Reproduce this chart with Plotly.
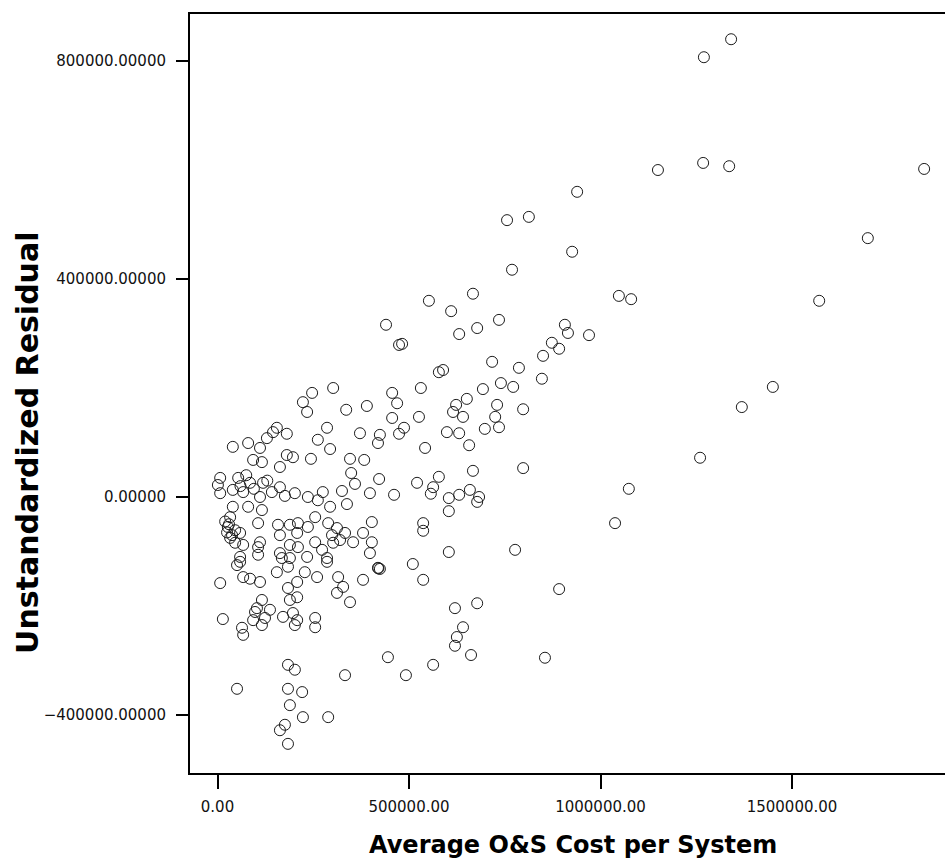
import plotly.graph_objects as go

# Average O&S Cost per System (x) and Unstandardized Residual (y)
cost = [
    # outliers / right side
    1341000, 1270000, 1268000, 1336000, 1845000, 1150000, 1698000, 1571000, 1450000, 1369000,
    1260000, 1074000, 1038000, 892000, 855000, 798000, 777000, 667000, 798000,
    # upper middle
    939000, 756000, 813000, 926000, 769000, 552000, 610000, 667000, 735000, 1048000,
    1080000, 631000, 678000, 907000, 915000, 970000, 873000, 892000, 850000, 717000,
    787000, 847000, 589000, 578000, 740000, 772000, 531000, 482000, 693000, 440000,
    474000,
    # middle
    651000, 623000, 615000, 641000, 730000, 725000, 526000, 487000, 599000, 631000,
    698000, 735000, 657000, 542000, 578000, 521000, 563000, 557000, 604000, 631000,
    659000, 683000, 678000, 604000, 537000, 537000, 604000, 510000, 537000, 620000,
    678000, 641000, 625000, 620000, 662000, 563000, 492000,
    # left cluster, upper part
    302000, 247000, 223000, 234000, 336000, 390000, 456000, 469000, 456000, 474000,
    424000, 372000, 419000, 286000, 262000, 294000, 244000, 346000, 383000, 349000,
    422000, 359000, 398000, 325000, 461000,
    # left cluster, around zero
    40000, 80000, 111000, 145000, 181000, 129000, 155000, 181000, 197000, 93000,
    116000, 163000, 7000, 1000, 7000, 54000, 40000, 67000, 85000, 111000,
    119000, 142000, 163000, 176000, 202000, 236000, 275000, 262000, 294000, 40000,
    80000, 116000, 33000, 27000, 46000, 59000, 33000, 106000, 111000, 158000,
    163000, 189000, 210000, 208000, 236000, 255000, 289000, 312000, 299000, 320000,
    354000, 380000, 403000, 403000, 338000, 59000, 106000, 163000, 234000, 286000,
    333000, 273000, 255000, 20000, 25000, 38000, 30000, 60000, 95000, 130000,
    75000,
    # left cluster, lower part
    46000, 67000, 106000, 59000, 51000, 7000, 67000, 85000, 111000, 189000,
    168000, 189000, 155000, 184000, 228000, 260000, 286000, 210000, 302000, 398000,
    380000, 424000, 315000, 328000, 312000, 346000, 208000, 184000, 208000, 189000,
    116000, 103000, 137000, 98000, 124000, 116000, 93000, 64000, 67000, 14000,
    171000, 197000, 208000, 202000, 255000, 255000, 184000, 202000, 51000, 184000,
    221000, 189000, 223000, 289000, 333000, 163000, 176000, 184000, 445000, 419000,
    420000,
]

residual = [
    # outliers / right side
    840000, 807000, 613000, 607000, 602000, 600000, 475000, 360000, 202000, 165000,
    72000, 15000, -48000, -169000, -295000, 53000, -97000, 48000, 161000,
    # upper middle
    560000, 508000, 514000, 450000, 417000, 360000, 341000, 373000, 325000, 369000,
    363000, 299000, 310000, 316000, 301000, 297000, 283000, 272000, 259000, 248000,
    237000, 217000, 233000, 229000, 209000, 202000, 200000, 281000, 198000, 316000,
    279000,
    # middle
    180000, 169000, 156000, 147000, 169000, 147000, 147000, 127000, 119000, 117000,
    125000, 128000, 95000, 90000, 37000, 26000, 18000, 6000, -2000, 4000,
    13000, 0, -9000, -26000, -48000, -62000, -101000, -123000, -152000, -204000,
    -195000, -239000, -257000, -273000, -290000, -308000, -327000,
    # left cluster, upper part
    200000, 191000, 174000, 156000, 160000, 167000, 191000, 172000, 145000, 116000,
    114000, 117000, 99000, 127000, 105000, 88000, 70000, 70000, 68000, 44000,
    33000, 24000, 7000, 11000, 4000,
    # left cluster, around zero
    92000, 99000, 90000, 119000, 116000, 108000, 127000, 77000, 73000, 68000,
    64000, 55000, 35000, 22000, 7000, 35000, 13000, 9000, 26000, 0,
    26000, 9000, 18000, 2000, 7000, 0, 9000, -6000, -18000, -18000,
    -18000, -24000, -37000, -55000, -61000, -66000, -75000, -48000, -83000, -51000,
    -70000, -51000, -48000, -66000, -55000, -83000, -48000, -57000, -70000, -79000,
    -83000, -66000, -83000, -46000, -13000, -110000, -92000, -103000, -110000, -112000,
    -66000, -97000, -37000, -45000, -65000, -70000, -50000, 20000, 15000, 30000,
    40000,
    # left cluster, lower part
    -84000, -88000, -106000, -119000, -125000, -158000, -147000, -150000, -156000, -88000,
    -112000, -112000, -138000, -128000, -138000, -147000, -119000, -92000, -84000, -103000,
    -152000, -132000, -147000, -165000, -176000, -193000, -156000, -167000, -184000, -189000,
    -189000, -204000, -207000, -211000, -222000, -235000, -226000, -240000, -253000, -224000,
    -220000, -213000, -226000, -235000, -222000, -239000, -308000, -317000, -352000, -352000,
    -358000, -382000, -404000, -404000, -327000, -428000, -418000, -453000, -294000, -130000,
    -131000,
]

x_ticks = [0, 500000, 1000000, 1500000]
y_ticks = [-400000, 0, 400000, 800000]
x_title = "Average O&amp;S Cost per System"
y_title = "Unstandardized Residual"

if len(cost) != len(residual):
    raise ValueError(f"length mismatch {len(cost)} vs {len(residual)}")

fig = go.Figure(
    go.Scatter(
        x=cost, y=residual, mode="markers",
        marker=dict(symbol="circle-open", size=11, color="#1c1c1c",
                    line=dict(width=1, color="#1c1c1c")),
        hoverinfo="x+y",
    )
)

tick_font = dict(family="DejaVu Sans", size=15, color="#111")

fig.update_layout(
    width=945, height=863,
    margin=dict(l=190, r=0, t=14, b=90),
    paper_bgcolor="white", plot_bgcolor="white",
    showlegend=False,
    xaxis=dict(
        range=[-71800, 1899500], tickvals=x_ticks, tickformat=".2f",
        showgrid=False, zeroline=False,
        showline=True, linecolor="black", linewidth=2, mirror=True,
        ticks="outside", ticklen=14, tickwidth=2, tickcolor="black",
        tickfont=tick_font, ticklabelstandoff=5,
    ),
    yaxis=dict(
        range=[-506500, 886300], tickvals=y_ticks, tickformat=".5f",
        showgrid=False, zeroline=False,
        showline=True, linecolor="black", linewidth=2, mirror=False,
        ticks="outside", ticklen=12, tickwidth=2, tickcolor="black",
        tickfont=tick_font, ticklabelstandoff=7,
    ),
    annotations=[
        dict(text=f"<b>{x_title}</b>", xref="paper", yref="paper",
             x=0.507, y=-0.0955, xanchor="center", yanchor="middle",
             showarrow=False, font=dict(family="DejaVu Sans", size=24, color="black")),
        dict(text=f"<b>{y_title}</b>", xref="paper", yref="paper",
             x=-0.2146, y=0.4348, xanchor="center", yanchor="middle", textangle=-90,
             showarrow=False, font=dict(family="DejaVu Sans", size=30, color="black")),
    ],
)

fig.write_html("out.html")
